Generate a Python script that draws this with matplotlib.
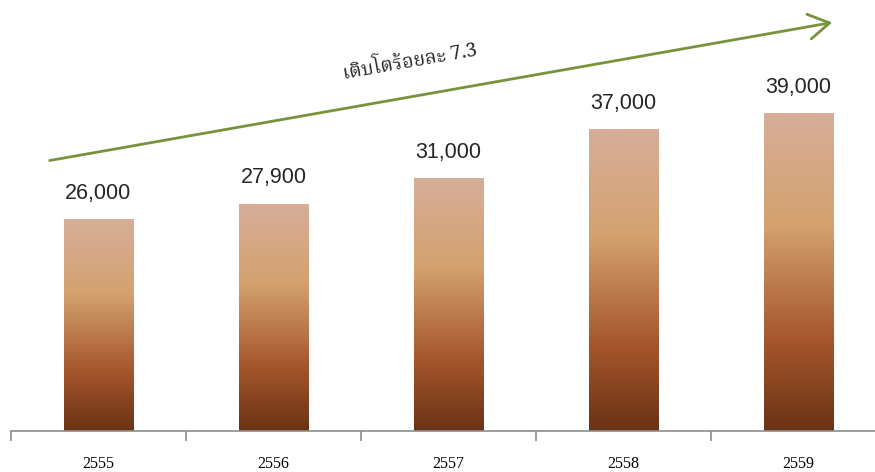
import numpy as np
import matplotlib
matplotlib.use('Agg')
import matplotlib.pyplot as plt
from matplotlib import font_manager
from matplotlib.ft2font import FT2Font
from matplotlib.colors import LinearSegmentedColormap

# ข้อมูล
years = ['2555', '2556', '2557', '2558', '2559']
values = [26000, 27900, 31000, 37000, 39000]
growth_label = 'เติบโตร้อยละ 7.3'

# หา font ที่มีอักษรไทย (เลือกแบบไม่ใช่ mono ก่อน)
thai_fonts = []
for path in font_manager.findSystemFonts():
    try:
        if 0x0E40 in FT2Font(path).get_charmap():
            thai_fonts.append(font_manager.FontProperties(fname=path).get_name())
    except Exception:
        pass
prefer = ['Norasi', 'Kinnari', 'Laksaman', 'Noto Serif Thai', 'Loma', 'Garuda',
          'Noto Sans Thai', 'Waree', 'Umpush', 'Sawasdee']
picked = [f for f in prefer if f in thai_fonts]
if not picked:
    picked = [f for f in thai_fonts if 'Mono' not in f and 'Typist' not in f] or thai_fonts
thai_family = picked[:1] + ['DejaVu Sans']

fig = plt.figure(figsize=(8.75, 4.72), dpi=100)
ax = fig.add_axes([11 / 875, 41 / 472, 864 / 875, 431 / 472])

bars = ax.bar(range(len(values)), values, width=0.4, color='none', edgecolor='none')

# gradient ไล่สีจากบนลงล่าง
cmap = LinearSegmentedColormap.from_list('brown', [
    (0.0, '#D6AE99'),
    (0.35, '#D4A26F'),
    (0.72, '#A5552B'),
    (1.0, '#693315'),
])
grad = np.linspace(0, 1, 256).reshape(-1, 1)
for bar in bars:
    x0, y0 = bar.get_x(), bar.get_y()
    w, h = bar.get_width(), bar.get_height()
    im = ax.imshow(grad, cmap=cmap, aspect='auto',
                   extent=[x0, x0 + w, y0, y0 + h], origin='upper', zorder=2)
    im.set_clip_path(bar)
    ax.text(x0 + w / 2, h + 1900, f'{int(h):,}', ha='center', va='bottom',
            fontsize=15.5, family='Liberation Sans', color='#262626')

ax.set_xlim(-0.5, -0.5 + 864 / 175)
ax.set_ylim(0, 52860)

# แกน
for s in ['top', 'right', 'left']:
    ax.spines[s].set_visible(False)
ax.spines['bottom'].set_color('#8C8C8C')
ax.spines['bottom'].set_linewidth(1.2)
ax.set_yticks([])
ax.set_xticks([i - 0.5 for i in range(len(years))])
ax.set_xticklabels([])
ax.tick_params(axis='x', which='major', length=7.5, width=1.2, color='#8C8C8C')
ax.set_xticks(range(len(years)), minor=True)
ax.set_xticklabels(years, minor=True, family='Liberation Serif', fontsize=11.5)
ax.tick_params(axis='x', which='minor', length=0, pad=18)

# ลูกศรแนวโน้ม
ax.annotate('', xy=(835 / 875, 1 - 22 / 472), xytext=(47 / 875, 1 - 161 / 472),
            xycoords='figure fraction', textcoords='figure fraction',
            arrowprops=dict(arrowstyle='->,head_length=0.75,head_width=0.45',
                            mutation_scale=20, color='#77933C', lw=2))
fig.text(410 / 875, 1 - 62 / 472, growth_label, rotation=10, ha='center', va='center',
         fontsize=14, family=thai_family, color='#262626')

plt.savefig('out.png', dpi=100)
